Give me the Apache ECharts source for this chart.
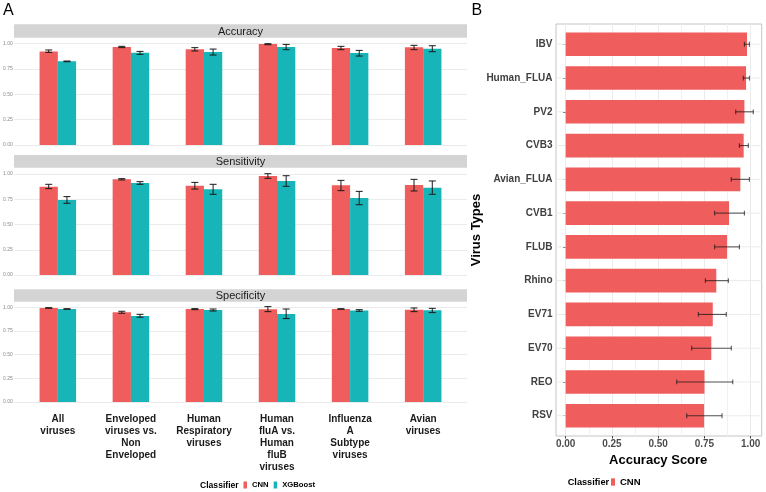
<!DOCTYPE html>
<html>
<head>
<meta charset="utf-8">
<script src="https://cdn.jsdelivr.net/npm/echarts@6/dist/echarts.min.js"></script>
<style>html,body{margin:0;padding:0;background:#fff}#c{width:766px;height:492px}</style>
</head>
<body>
<div id="c"></div>
<script>
// ---------- DATA ----------
const categoriesA = ['All\nviruses', 'Enveloped\nviruses vs.\nNon\nEnveloped', 'Human\nRespiratory\nviruses',
  'Human\nfluA vs.\nHuman\nfluB\nviruses', 'Influenza\nA\nSubtype\nviruses', 'Avian\nviruses'];
const metrics = ['Accuracy', 'Sensitivity', 'Specificity'];
const classifiers = ['CNN', 'XGBoost'];

const accCNN    = [0.924, 0.967, 0.944, 0.996, 0.957, 0.964];
const accCNNlo  = [0.914, 0.961, 0.928, 0.990, 0.941, 0.941];
const accCNNhi  = [0.938, 0.974, 0.961, 1.000, 0.974, 0.984];
const accXGB    = [0.826, 0.911, 0.918, 0.967, 0.908, 0.951];
const accXGBlo  = [0.822, 0.895, 0.888, 0.941, 0.878, 0.921];
const accXGBhi  = [0.829, 0.924, 0.947, 0.993, 0.934, 0.980];

const senCNN    = [0.875, 0.947, 0.884, 0.980, 0.888, 0.891];
const senCNNlo  = [0.855, 0.941, 0.851, 0.957, 0.835, 0.832];
const senCNNhi  = [0.898, 0.954, 0.917, 1.003, 0.937, 0.947];
const senXGB    = [0.743, 0.911, 0.848, 0.931, 0.762, 0.865];
const senXGBlo  = [0.710, 0.898, 0.799, 0.878, 0.696, 0.799];
const senXGBhi  = [0.776, 0.924, 0.898, 0.983, 0.828, 0.931];

const speCNN    = [0.993, 0.947, 0.982, 0.979, 0.982, 0.975];
const speCNNlo  = [0.990, 0.937, 0.975, 0.954, 0.979, 0.954];
const speCNNhi  = [0.996, 0.958, 0.986, 1.007, 0.985, 0.993];
const speXGB    = [0.982, 0.909, 0.972, 0.930, 0.965, 0.968];
const speXGBlo  = [0.979, 0.895, 0.961, 0.881, 0.958, 0.944];
const speXGBhi  = [0.985, 0.926, 0.982, 0.982, 0.975, 0.989];

const yTicksA = [0, 0.25, 0.5, 0.75, 1];

const virusTypes = ['IBV', 'Human_FLUA', 'PV2', 'CVB3', 'Avian_FLUA', 'CVB1', 'FLUB', 'Rhino', 'EV71', 'EV70', 'REO', 'RSV'];
const virusAcc = [0.980, 0.975, 0.966, 0.962, 0.944, 0.883, 0.872, 0.814, 0.795, 0.787, 0.750, 0.748];
const virusLo  = [0.966, 0.960, 0.919, 0.939, 0.895, 0.805, 0.805, 0.755, 0.717, 0.681, 0.600, 0.654];
const virusHi  = [0.993, 0.993, 1.014, 0.987, 0.993, 0.966, 0.939, 0.879, 0.868, 0.895, 0.903, 0.845];
const xTicksB = [0, 0.25, 0.5, 0.75, 1];

// ---------- STYLE / LAYOUT ----------
const FONT = '"Liberation Sans", Arial, sans-serif';
const RED = '#EF5D5C', TEAL = '#17B4B8';
const GRIDC = '#ebebeb';
const facetData = [
  [accCNN, accCNNlo, accCNNhi, accXGB, accXGBlo, accXGBhi],
  [senCNN, senCNNlo, senCNNhi, senXGB, senXGBlo, senXGBhi],
  [speCNN, speCNNlo, speCNNhi, speXGB, speXGBlo, speXGBhi]
];
const facetLayout = [
  {stripTop: 24.3, stripBot: 37.7, top: 43.7, zero: 145},
  {stripTop: 155, stripBot: 167.7, top: 174, zero: 275},
  {stripTop: 289.3, stripBot: 301.7, top: 307.3, zero: 402}
];
const PANEL_L = 14, PANEL_R = 467;
const BAND = (PANEL_R - PANEL_L) / 6.2;
const BAR_L = PANEL_L + 0.1 * BAND;
// panel B
const B_L = 556, B_R = 761.7, B_T = 24, B_B = 436;
const B_X0 = 565.7, B_X1 = 750.7;
const B_MIN = -0.052, B_MAX = 1.059;
const B_BAND = (B_B - B_T) / 12.2;

const grids = [], xAxes = [], yAxes = [], series = [], graphics = [];

function errRenderer(side) {
  return function (params, api) {
    const i = api.value(0);
    const band = api.size([1, 0])[0];
    const pLo = api.coord([i, api.value(1)]);
    const pHi = api.coord([i, api.value(2)]);
    const x = pLo[0] + side * band * 0.125;
    const cap = 3.5;
    const st = {stroke: '#1a1a1a', lineWidth: 1};
    return {type: 'group', children: [
      {type: 'line', shape: {x1: x, y1: pLo[1], x2: x, y2: pHi[1]}, style: st},
      {type: 'line', shape: {x1: x - cap, y1: pLo[1], x2: x + cap, y2: pLo[1]}, style: st},
      {type: 'line', shape: {x1: x - cap, y1: pHi[1], x2: x + cap, y2: pHi[1]}, style: st}
    ]};
  };
}

facetLayout.forEach((f, k) => {
  const h = f.zero - f.top;
  grids.push({left: PANEL_L, width: PANEL_R - PANEL_L, top: f.top, height: h});
  xAxes.push({gridIndex: 2 * k, type: 'value', min: 0, max: 1, show: false});
  yAxes.push({gridIndex: 2 * k, type: 'value', min: yTicksA[0], max: yTicksA[yTicksA.length - 1], interval: 0.25,
    axisLine: {show: false}, axisTick: {show: false},
    splitLine: {show: true, lineStyle: {color: GRIDC, width: 1}},
    axisLabel: {fontSize: 5, color: '#8a8a8a', margin: 1.5, fontFamily: FONT, formatter: v => v.toFixed(2)}});
  grids.push({left: BAR_L, width: BAND * 6, top: f.top, height: h});
  xAxes.push({gridIndex: 2 * k + 1, type: 'category', data: categoriesA,
    axisLine: {show: false}, axisTick: {show: false}, splitLine: {show: false},
    axisLabel: {show: k === 2, interval: 0, fontSize: 10, fontWeight: 'bold', lineHeight: 12,
      color: '#1a1a1a', margin: 11, fontFamily: FONT, align: 'center'}});
  yAxes.push({gridIndex: 2 * k + 1, type: 'value', min: 0, max: 1, show: false});

  const d = facetData[k];
  [[0, RED], [1, TEAL]].forEach(([ci, col]) => {
    series.push({type: 'bar', name: classifiers[ci], xAxisIndex: 2 * k + 1, yAxisIndex: 2 * k + 1,
      data: d[ci * 3], barWidth: '25%', barGap: '0%', itemStyle: {color: col}, z: 2, silent: true});
  });
  [[0, -1], [1, 1]].forEach(([ci, side]) => {
    series.push({type: 'custom', name: 'err' + k + ci, xAxisIndex: 2 * k + 1, yAxisIndex: 2 * k + 1,
      data: d[ci * 3].map((v, i) => [i, d[ci * 3 + 1][i], d[ci * 3 + 2][i]]),
      encode: {x: 0, y: [1, 2]}, renderItem: errRenderer(side), z: 5, clip: false, silent: true});
  });

  graphics.push({type: 'rect', shape: {x: PANEL_L, y: f.stripTop, width: PANEL_R - PANEL_L, height: f.stripBot - f.stripTop},
    style: {fill: '#d4d4d4'}, silent: true});
  graphics.push({type: 'text', x: (PANEL_L + PANEL_R) / 2, y: (f.stripTop + f.stripBot) / 2 + 0.5,
    style: {text: metrics[k], fontSize: 11, fill: '#1a1a1a', fontFamily: FONT, align: 'center', verticalAlign: 'middle'}});
});

// ----- Panel B -----
grids.push({left: B_L, top: B_T, width: B_R - B_L, height: B_B - B_T, show: true, borderColor: '#c4c4c4', borderWidth: 1, backgroundColor: 'transparent'});
xAxes.push({gridIndex: 6, type: 'value', show: false});
yAxes.push({gridIndex: 6, type: 'value', show: false});
grids.push({left: B_X0, top: B_T, width: B_X1 - B_X0, height: B_B - B_T});
xAxes.push({gridIndex: 7, type: 'value', min: xTicksB[0], max: xTicksB[xTicksB.length - 1], interval: 0.25,
  axisLine: {show: false},
  axisTick: {show: true, length: 2.5, lineStyle: {color: '#444'}},
  minorTick: {show: false, splitNumber: 2},
  splitLine: {show: true, lineStyle: {color: GRIDC, width: 1}},
  minorSplitLine: {show: true, lineStyle: {color: '#f1f1f1', width: 1}},
  axisLabel: {fontSize: 10, fontWeight: 'bold', color: '#4d4d4d', margin: 3.5, fontFamily: FONT, formatter: v => v.toFixed(2)},
  name: 'Accuracy Score', nameLocation: 'middle', nameGap: 12,
  nameTextStyle: {fontSize: 13, fontWeight: 'bold', color: '#000', fontFamily: FONT}});
yAxes.push({gridIndex: 7, type: 'value', show: false});
const bTop = B_T + 0.1 * B_BAND;
grids.push({left: B_X0, top: bTop, width: B_X1 - B_X0, height: B_BAND * 12});
xAxes.push({gridIndex: 8, type: 'value', min: 0, max: 1, show: false});
yAxes.push({gridIndex: 8, type: 'category', data: virusTypes, inverse: true, offset: B_X0 - B_L,
  axisLine: {show: false},
  axisTick: {show: true, alignWithLabel: true, length: 2.5, lineStyle: {color: '#444'}},
  splitLine: {show: false},
  axisLabel: {fontSize: 10, fontWeight: 'bold', color: '#404040', margin: 3.5, fontFamily: FONT},
  name: 'Virus Types', nameLocation: 'middle', nameRotate: 90, nameGap: 69,
  nameTextStyle: {fontSize: 13, fontWeight: 'bold', color: '#000', fontFamily: FONT}});

series.push({type: 'custom', name: 'hgrid', xAxisIndex: 8, yAxisIndex: 8, data: virusTypes.map((v, i) => [i]),
  encode: {y: 0}, clip: false, silent: true, z: 1,
  renderItem: (params, api) => {
    const i = api.value(0);
    const p1 = api.coord([B_MIN, i]), p2 = api.coord([B_MAX, i]);
    return {type: 'line', shape: {x1: p1[0], y1: p1[1], x2: p2[0], y2: p2[1]}, style: {stroke: GRIDC, lineWidth: 1}};
  }});
series.push({type: 'bar', name: 'CNN', xAxisIndex: 8, yAxisIndex: 8, data: virusAcc, barWidth: '70%',
  itemStyle: {color: RED}, z: 2, silent: true});
series.push({type: 'custom', name: 'errB', xAxisIndex: 8, yAxisIndex: 8,
  data: virusTypes.map((v, i) => [i, virusLo[i], virusHi[i]]), encode: {y: 0, x: [1, 2]}, clip: false, silent: true, z: 5,
  renderItem: (params, api) => {
    const i = api.value(0);
    const a = api.coord([api.value(1), i]), b = api.coord([api.value(2), i]);
    const cap = 2.4;
    const st = {stroke: 'rgba(20,20,20,0.7)', lineWidth: 1.1};
    return {type: 'group', children: [
      {type: 'line', shape: {x1: a[0], y1: a[1], x2: b[0], y2: b[1]}, style: st},
      {type: 'line', shape: {x1: a[0], y1: a[1] - cap, x2: a[0], y2: a[1] + cap}, style: st},
      {type: 'line', shape: {x1: b[0], y1: b[1] - cap, x2: b[0], y2: b[1] + cap}, style: st}
    ]};
  }});

graphics.push({type: 'text', x: 3, y: 3, style: {text: 'A', fontSize: 16, fill: '#000', fontFamily: FONT}});
graphics.push({type: 'text', x: 471.5, y: 3, style: {text: 'B', fontSize: 16, fill: '#000', fontFamily: FONT}});
graphics.push({type: 'text', x: 200, y: 486, style: {text: 'Classifier', fontSize: 8.6, fontWeight: 'bold', fill: '#000', fontFamily: FONT, verticalAlign: 'middle'}});
graphics.push({type: 'text', x: 567.7, y: 482, style: {text: 'Classifier', fontSize: 9.2, fontWeight: 'bold', fill: '#000', fontFamily: FONT, verticalAlign: 'middle'}});

const option = {
  animation: false,
  backgroundColor: '#fff',
  grid: grids, xAxis: xAxes, yAxis: yAxes, series: series,
  legend: [
    {data: classifiers, left: 243.5, top: 481, itemWidth: 3.5, itemHeight: 7, itemGap: 5, icon: 'rect', selectedMode: false,
      padding: 0, textStyle: {fontSize: 7.7, fontWeight: 'bold', color: '#000', fontFamily: FONT}},
    {data: ['CNN'], left: 611, top: 477, itemWidth: 4, itemHeight: 7.3, icon: 'rect', selectedMode: false,
      padding: 0, textStyle: {fontSize: 9.5, fontWeight: 'bold', color: '#000', fontFamily: FONT}}
  ],
  graphic: graphics
};
const chart = echarts.init(document.getElementById('c'), null, {renderer: 'canvas'});
chart.setOption(option);
</script>
</body>
</html>
